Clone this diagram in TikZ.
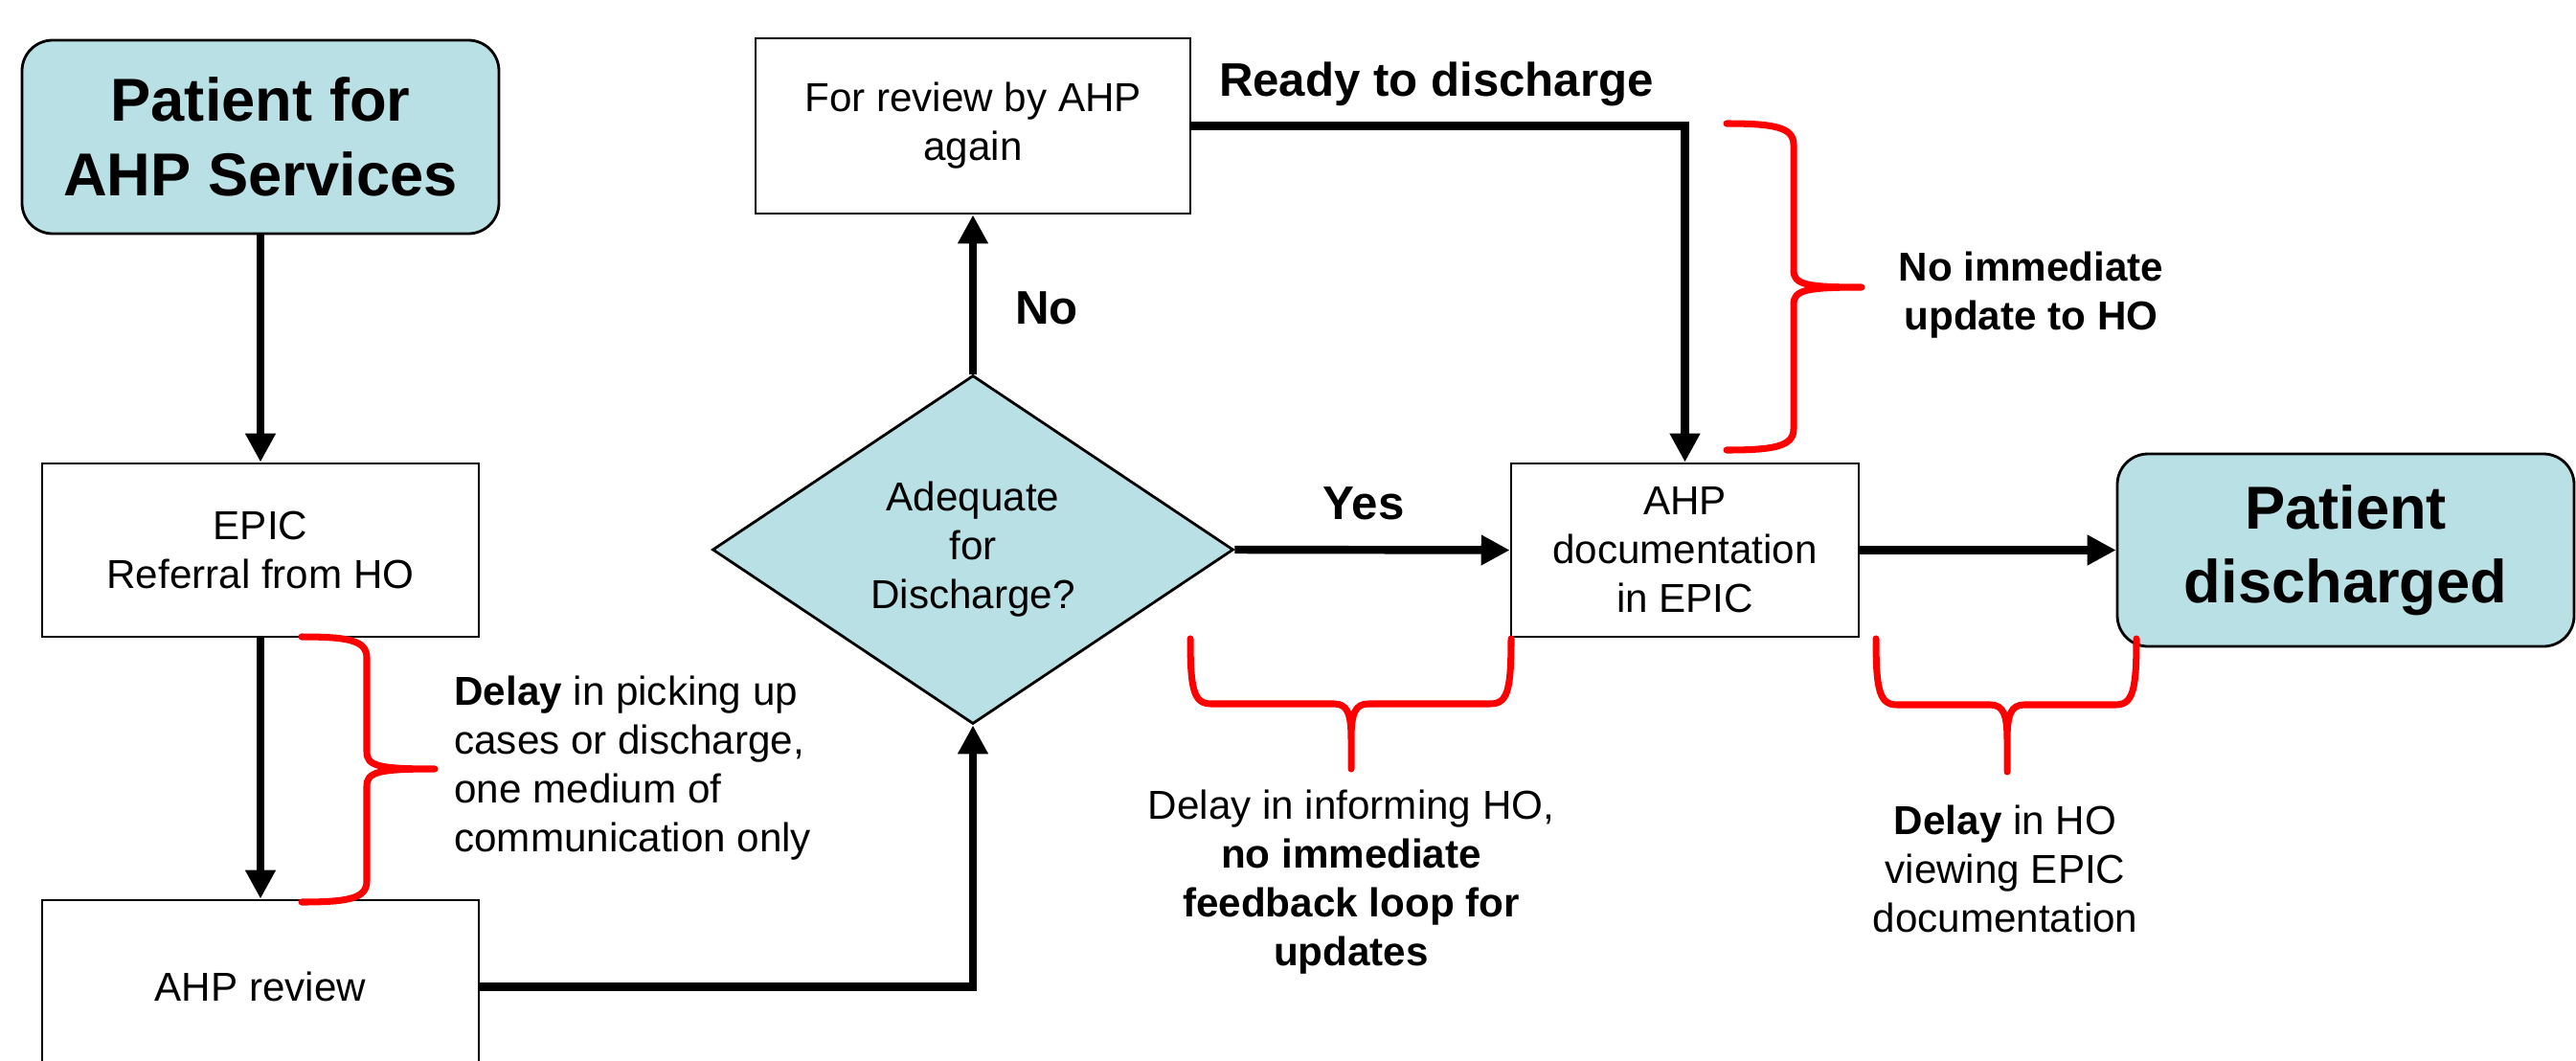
\documentclass[tikz,border=0pt]{standalone}
\usepackage{fontspec}
\setmainfont{Liberation Sans}
\usetikzlibrary{arrows.meta,shapes.geometric}
\definecolor{ahpteal}{RGB}{185,224,228}
\begin{document}
\begin{tikzpicture}[
  plainbox/.style={draw, line width=0.8pt, fill=white, align=center, inner sep=2pt,
    font=\fontsize{12}{14.5}\selectfont},
  endbox/.style={draw, line width=0.8pt, fill=ahpteal, rounded corners=0.32cm, align=center,
    minimum width=4.98cm, minimum height=2.02cm, font=\fontsize{18}{22}\selectfont\bfseries},
  decision/.style={draw, diamond, line width=0.8pt, fill=ahpteal, inner sep=0pt, align=center,
    minimum width=5.44cm, minimum height=3.64cm, font=\fontsize{12}{14.5}\selectfont},
  flowarrow/.style={line width=2.4pt, -{Triangle[length=8.5pt,width=8.5pt]}},
  delaybrace/.style={red, line width=2pt, line cap=round, line join=round},
  note/.style={align=center, font=\fontsize{12}{14.5}\selectfont},
  answer/.style={font=\fontsize{14}{17}\selectfont\bfseries}
]
\useasboundingbox (0,0) rectangle (26.9,11.07);
\clip (0,0) rectangle (26.9,11.07);
\node[endbox] (pat) at (2.72,9.64) {Patient for\\AHP Services};
\node[plainbox, minimum width=4.56cm, minimum height=1.81cm] (epic) at (2.72,5.325) {EPIC\\Referral from HO};
\node[plainbox, minimum width=4.56cm, minimum height=1.81cm] (rev) at (2.72,0.765) {AHP review};
\node[decision] (adeq) at (10.16,5.33) {Adequate\\for\\Discharge?};
\node[plainbox, minimum width=4.54cm, minimum height=1.83cm] (again) at (10.16,9.755) {For review by AHP\\again};
\node[plainbox, minimum width=3.63cm, minimum height=1.81cm] (doc) at (17.595,5.325) {AHP\\documentation\\in EPIC};
\node[endbox, minimum width=4.77cm, minimum height=2.01cm] (dis) at (24.495,5.325) {Patient\\discharged};
\draw[flowarrow] (pat) -- (epic);
\draw[flowarrow] (epic) -- (rev);
\draw[flowarrow] (rev.east) -| (adeq.south);
\draw[flowarrow] (adeq.north) -- (again.south);
\draw[flowarrow] (again.east) -| (doc.north);
\draw[flowarrow] (adeq.east) -- (doc.west);
\draw[flowarrow] (doc.east) -- (dis.west);
\node[answer] (no) at (10.93,7.85) {No};
\node[answer] (yes) at (14.24,5.81) {Yes};
\node[answer] (ready) at (15.00,10.19) {Ready to discharge};
\node[note, align=left, anchor=west] (pickup) at (4.62,3.05) {\textbf{Delay} in picking up\\cases or discharge,\\one medium of\\communication only};
\node[note, font=\fontsize{12}{14.5}\selectfont\bfseries] (noupdate) at (21.21,7.99) {No immediate\\update to HO};
\node[note] (inform) at (14.11,1.86) {Delay in informing HO,\\\textbf{no immediate}\\\textbf{feedback loop for}\\\textbf{updates}};
\node[note] (viewing) at (20.94,2.00) {\textbf{Delay} in HO\\viewing EPIC\\documentation};
\draw[delaybrace] (3.15,4.42) .. controls (3.65,4.42) and (3.83,4.38) .. (3.83,4.20) -- (3.83,3.22) .. controls (3.83,3.07) and (3.95,3.04) .. (4.54,3.04) .. controls (3.95,3.04) and (3.83,3.01) .. (3.83,2.86) -- (3.83,1.87) .. controls (3.83,1.69) and (3.65,1.65) .. (3.15,1.65);
\draw[delaybrace] (18.03,9.78) .. controls (18.53,9.78) and (18.73,9.74) .. (18.73,9.56) -- (18.73,8.25) .. controls (18.73,8.10) and (18.85,8.07) .. (19.44,8.07) .. controls (18.85,8.07) and (18.73,8.04) .. (18.73,7.89) -- (18.73,6.59) .. controls (18.73,6.41) and (18.53,6.37) .. (18.03,6.37);
\draw[delaybrace] (12.43,4.40) .. controls (12.43,3.85) and (12.47,3.72) .. (12.65,3.72) -- (13.93,3.72) .. controls (14.07,3.72) and (14.11,3.62) .. (14.11,3.35) -- (14.11,3.04) -- (14.11,3.35) .. controls (14.11,3.62) and (14.15,3.72) .. (14.29,3.72) -- (15.56,3.72) .. controls (15.74,3.72) and (15.78,3.85) .. (15.78,4.40);
\draw[delaybrace] (19.59,4.40) .. controls (19.59,3.85) and (19.63,3.71) .. (19.81,3.71) -- (20.78,3.71) .. controls (20.92,3.71) and (20.96,3.61) .. (20.96,3.34) -- (20.96,3.01) -- (20.96,3.34) .. controls (20.96,3.61) and (21.00,3.71) .. (21.14,3.71) -- (22.09,3.71) .. controls (22.27,3.71) and (22.31,3.85) .. (22.31,4.40);
\end{tikzpicture}
\end{document}
